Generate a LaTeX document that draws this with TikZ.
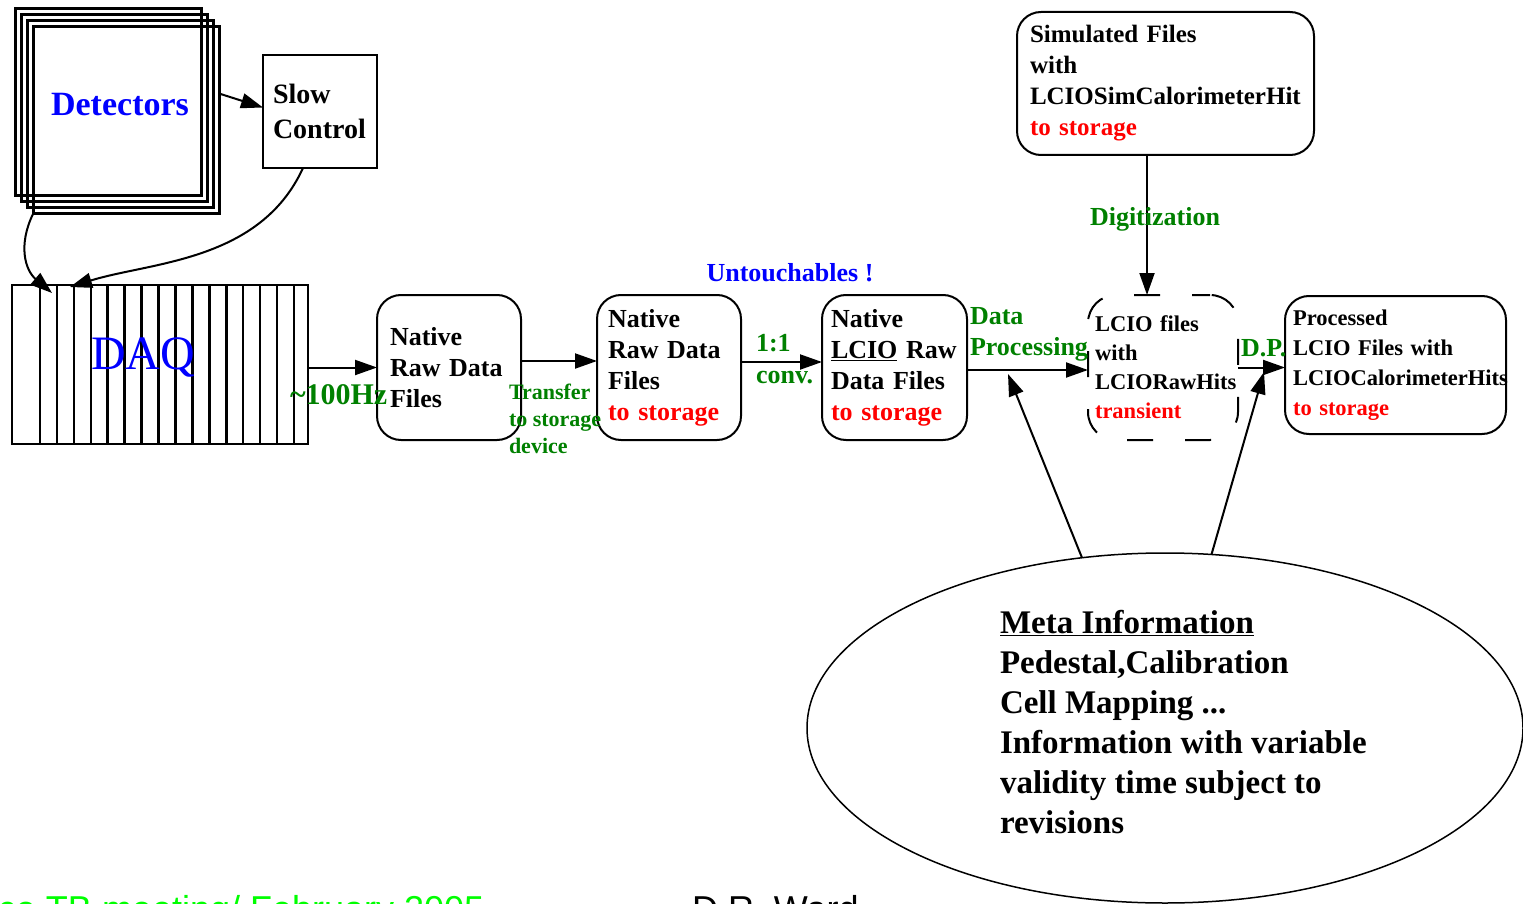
\documentclass[tikz,border=0pt]{standalone}
\usepackage{fontspec}
\setmainfont{Liberation Serif}
\newfontfamily\footfont{Liberation Sans}
\usetikzlibrary{arrows.meta,shapes.geometric}
\definecolor{dgreen}{RGB}{0,128,0}
\definecolor{lgreen}{RGB}{0,255,0}
\newcommand\fsz[2]{\fontsize{#1}{#2}\selectfont}
\begin{document}
\begin{tikzpicture}[x=1pt,y=-1pt,
  every node/.style={inner sep=0pt,outer sep=0pt},
  conn/.style={line width=2pt,-{Triangle[length=22pt,width=15pt]}},
  detbox/.style={draw,line width=3pt,minimum width=186pt,minimum height=187pt,anchor=north west},
  filebox/.style={draw,line width=2pt,rounded corners=24pt,align=left,anchor=north west,font=\bfseries\fsz{26}{31}},
  greenlbl/.style={text=dgreen,font=\bfseries\fsz{26}{31},align=left},
]
\useasboundingbox (0,0) rectangle (1523,904);

% detector stack
\node[detbox] (det1) at (15,9) {};
\node[detbox] (det2) at (21,15) {};
\node[detbox] (det3) at (27,21) {};
\node[detbox] (det4) at (33,27) {};
\node[text=blue,font=\bfseries\fsz{34}{40}] (detlbl) at (120,105) {Detectors};

% slow control
\node[draw,line width=2pt,anchor=north west,minimum width=114pt,minimum height=113pt,
      text width=94pt,inner xsep=10pt,align=left,font=\bfseries\fsz{28}{35}] (slow) at (263,55) {Slow\\Control};

% DAQ crate
\node[draw,line width=2.5pt,anchor=north west,minimum width=296pt,minimum height=159pt] (daq) at (12,285) {};
\foreach \k in {0,...,15}
  \draw[line width=2.5pt] ([xshift={(28+16.933*\k)*1pt}]daq.north west) -- ([xshift={(28+16.933*\k)*1pt}]daq.south west);
\node[text=blue,font=\fsz{48}{48}] (daqlbl) at (143,357) {DAQ};

% file stages
\node[filebox,minimum width=144pt,minimum height=145pt,text width=118pt,inner xsep=13pt] (raw1) at (377,295)
  {Native\\Raw Data\\Files};
\node[filebox,minimum width=144pt,minimum height=145pt,text width=122pt,inner xsep=11pt] (raw2) at (597,295)
  {Native\\Raw Data\\Files\\{\color{red}to storage}};
\node[filebox,minimum width=145pt,minimum height=145pt,text width=127pt,inner xsep=9pt] (lcioraw) at (822,295)
  {Native\\\underline{LCIO} Raw\\Data Files\\{\color{red}to storage}};
\node[filebox,rounded corners=28pt,dash pattern=on 26pt off 32pt,dash phase=8pt,
      minimum width=150pt,minimum height=145pt,text width=136pt,inner xsep=7pt,font=\bfseries\fsz{22.5}{29}] (lciotr) at (1088,295)
  {LCIO files\\with\\LCIORawHits\\{\color{red}transient}};
\node[filebox,minimum width=221pt,minimum height=138pt,text width=205pt,inner xsep=8pt,font=\bfseries\fsz{22.5}{30}] (proc) at (1285,296)
  {Processed\\LCIO Files with\\LCIOCalorimeterHits\\{\color{red}to storage}};
\node[filebox,minimum width=297pt,minimum height=143pt,text width=271pt,inner xsep=13pt,font=\bfseries\fsz{25}{31}] (sim) at (1017,12)
  {Simulated Files\\with\\LCIOSimCalorimeterHit\\{\color{red}to storage}};

% meta information
\node[draw,ellipse,line width=1.5pt,minimum width=716pt,minimum height=350pt] (meta) at (1165,728) {};
\node[anchor=west,align=left,font=\bfseries\fsz{33}{40}] (metatxt) at (1000,722)
  {\underline{Meta Information}\\Pedestal,Calibration\\Cell Mapping ...\\Information with variable\\validity time subject to\\revisions};

% connectors
\draw[conn] ([yshift=27pt]det4.east) -- ([yshift=4pt]slow.west);
\draw[conn] (det4.south west) .. controls (18,245) and (25,270) .. (52,293);
\draw[conn] ([xshift=-17pt]slow.south) .. controls (260,262) and (150,262) .. (70,287);
\draw[conn] (daq.east |- raw1.west) -- (raw1.west);
\draw[conn] ([yshift=6.5pt]raw1.east) -- ([yshift=6.5pt]raw2.west);
\draw[conn] ([yshift=5.5pt]raw2.east) -- ([yshift=5.5pt]lcioraw.west);
\draw[conn] ([yshift=-2.5pt]lcioraw.east) -- ([yshift=-2.5pt]lciotr.west);
\draw[conn] (lciotr.east) -- (proc.west |- lciotr.east);
\draw[conn] ([xshift=-18.5pt]sim.south) -- ([xshift=-18.5pt]sim.south |- lciotr.north);
\coordinate (dpin) at (1008,374);
\coordinate (dpout) at (1264,372);
\draw[conn] (meta.116) -- (dpin);
\draw[conn] (meta.75) -- (dpout);

% connector labels
\node[greenlbl,anchor=west,font=\bfseries\fsz{30}{30}] (ratelbl) at (290,395) {\textasciitilde100Hz};
\node[greenlbl,anchor=west,font=\bfseries\fsz{22}{27}] (xferlbl) at (509,419) {Transfer\\to storage\\device};
\node[greenlbl,anchor=west,font=\bfseries\fsz{26}{32}] (convlbl) at (756,359) {1:1\\conv.};
\node[greenlbl,anchor=west] (dplbl) at (970,334) {Data\\Processing};
\node[greenlbl] (digilbl) at (1155,219) {Digitization};
\node[greenlbl,anchor=west] (dpshort) at (1241,348) {D.P.};
\node[text=blue,font=\bfseries\fsz{26}{31}] (untlbl) at (790,273) {Untouchables !};

% footer line
\begin{scope}
  \clip (0,0) rectangle (1523,904);
  \node[anchor=base west,text=lgreen,font=\footfont\fsz{36}{40}] (venue) at (-2,921) {ce TB meeting/ February 2005};
  \node[anchor=base west,font=\footfont\fsz{36}{40}] (author) at (692,921) {D.R. Ward};
\end{scope}
\end{tikzpicture}
\end{document}
